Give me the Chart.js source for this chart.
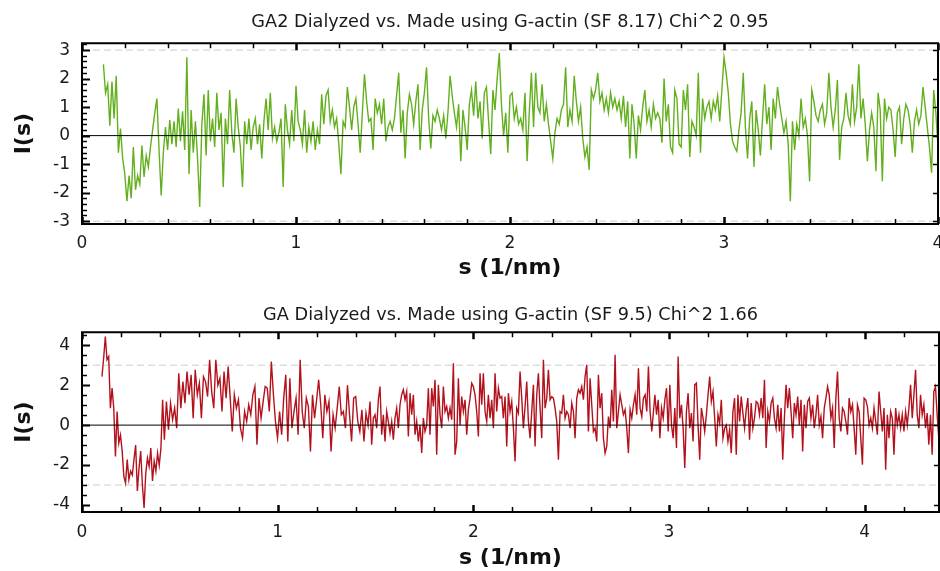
<!DOCTYPE html>
<html>
<head>
<meta charset="utf-8">
<title>GA residuals</title>
<script src="https://cdn.jsdelivr.net/npm/chart.js@4"></script>
<style>
    body { margin: 0; background: #fff; }
    .panel { position: absolute; left: 0; width: 940px; }
    #top { top: 0; height: 285px; }
    #bottom { top: 289px; height: 282px; }
</style>
</head>
<body>
<div class="panel" id="top"><canvas id="topChart"></canvas></div>
<div class="panel" id="bottom"><canvas id="bottomChart"></canvas></div>
<script>
const topTitle = 'GA2 Dialyzed vs. Made using G-actin (SF 8.17) Chi^2 0.95';
const bottomTitle = 'GA Dialyzed vs. Made using G-actin (SF 9.5) Chi^2 1.66';

const topXTicks = [0, 1, 2, 3, 4];
const topYTicks = [-3, -2, -1, 0, 1, 2, 3];
const bottomXTicks = [0, 1, 2, 3, 4];
const bottomYTicks = [-4, -2, 0, 2, 4];

// top panel, read every 0.01 from s = 0.10 to 4.00
const topStart = 0.10;
const topEnd = 4.00;
const topValues = [
    2.5, 1.5, 1.8, 0.35, 1.9, 0.6, 2.1, -0.6, 0.25, -0.8,
    -1.35, -2.3, -1.4, -2.2, -0.4, -1.9, -1.4, -1.7, -0.35, -1.45,
    -0.7, -1.1, -0.4, 0.2, 0.8, 1.3, -0.5, -2.1, -0.6, 0.3,
    -0.5, 0.55, -0.3, 0.5, -0.4, 0.95, -0.2, 0.85, -0.5, 2.75,
    -1.35, 0.9, -0.6, 0.5, -0.8, -2.5, 0.4, 1.45, -0.7, 1.6,
    -0.2, 0.6, -0.4, 1.5, 0.2, 0.8, -1.8, 0.6, -0.3, 1.6,
    0.1, -0.6, 1.3, 0.3, -0.4, -1.8, 0.5, -0.3, 0.6, -0.5,
    0.3, 0.6, -0.3, 0.4, -0.8, 0.5, 1.3, 0.2, 1.5, -0.1,
    0.3, -0.2, 0.1, 0.6, -1.8, 1.1, 0.2, -0.3, 0.9, -0.2,
    1.75, 0.5, 0.2, -0.3, 0.9, -0.6, 0.3, -0.2, 0.5, -0.5,
    0.2, -0.3, 1.45, 0.4, 1.4, 1.6, 0.5, 0.9, 0.3, 0.6,
    -0.3, -1.35, 0.5, 0.3, 1.7, 1.0, 0.2, 1.0, 1.3, 0.4,
    -0.6, 0.8, 2.15, 1.2, 0.5, 0.6, -0.5, 1.3, 0.8, 1.1,
    0.4, 1.3, -0.2, 0.3, 0.5, 0.2, 0.6, 1.4, 2.2, 0.1,
    0.9, -0.8, 0.8, 1.45, 1.1, 0.4, 1.2, 1.8, -0.5, 0.9,
    1.5, 2.4, 0.6, -0.45, 0.7, 0.5, 0.9, 0.6, 0.2, 0.7,
    -0.1, 0.8, 2.1, 1.4, 0.8, 0.3, 1.1, -0.9, 0.9, 0.3,
    -0.5, 1.1, 1.6, 0.7, 1.9, 0.6, 1.2, -0.1, 1.5, 1.7,
    0.5, -0.65, 1.6, 0.9, 2.0, 2.9, 1.1, 0.0, 0.8, -0.6,
    1.4, 1.5, 0.6, 1.0, 0.4, 0.6, 0.2, 1.5, -0.9, 0.8,
    2.2, 0.3, 2.2, 1.0, 0.8, 1.8, 0.5, 1.1, 0.4, -0.2,
    -0.8, 0.1, 0.6, 0.4, 0.9, 1.1, 2.4, 0.3, 0.9, 0.5,
    2.1, 1.2, 0.5, 1.0, -0.1, -0.75, -0.4, -1.2, 1.6, 1.3,
    1.6, 2.2, 1.2, 1.5, 0.9, 1.3, 0.8, 1.5, 1.0, 1.3,
    0.9, 1.2, 0.6, 1.4, 0.3, 1.2, -0.8, 1.1, 0.4, -0.8,
    0.7, 0.2, 1.0, 1.6, 0.5, 0.9, 0.3, 1.1, 0.6, 0.8,
    0.6, -0.25, 2.0, 0.5, 1.1, -0.4, -0.6, 1.6, 1.3, -0.3,
    -0.4, 1.6, 0.9, 1.8, -0.75, 0.5, 0.3, 0.0, 2.2, -0.6,
    1.3, 0.6, 1.0, 1.2, 0.6, 1.2, 0.9, 1.4, 0.5, 1.6,
    2.75, 2.2, 1.5, 0.4, -0.2, -0.4, -0.55, 0.2, 0.8, 2.2,
    0.3, -0.8, 0.6, 1.2, -1.1, 0.9, 0.2, -0.7, 0.6, 1.8,
    0.4, 1.0, -0.5, 1.3, 0.6, 1.7, 1.1, 0.6, 0.1, 0.5,
    -0.3, -2.3, 0.5, -0.5, 0.4, 0.0, 1.3, 0.3, 0.6, 0.0,
    -1.6, 1.6, 1.2, 0.7, 0.5, 0.9, 1.1, 0.4, 0.8, 2.2,
    1.0, 0.3, 0.9, 1.95, -0.85, 0.3, 0.6, 1.5, 0.7, 0.4,
    1.8, 0.5, 1.0, 2.5, 0.6, 1.3, 0.4, -0.9, 0.2, 0.8,
    0.3, -1.25, 1.5, 0.9, -1.6, 1.3, 0.6, 1.0, 0.9, 0.2,
    -0.75, 0.8, 1.0, -0.3, 0.6, 1.1, 0.9, 0.4, -0.6, 0.5,
    0.9, 0.4, 0.7, 1.7, 1.0, 0.3, -0.4, -1.3, 1.6, 0.8,
    -0.4
];

// bottom panel, read in four stretches (s from, s to)
const bottomRanges = [[0.102, 0.412], [0.421, 1.462], [1.472, 2.912], [2.928, 4.379]];
const bottomA = [
    2.43, 3.35, 4.43, 3.27, 3.43, 0.85, 1.85, 0.85, -1.57, 0.68,
    -0.9, -0.5, -1.3, -2.57, -2.9, -1.73, -2.73, -2.3, -2.5, -1.73,
    -1.0, -3.3, -2.15, -1.3, -3.0, -4.15, -2.4, -1.65, -2.07, -1.15,
    -2.8, -1.8, -2.3, -1.4, -2.0, -1.15, 1.27
];
const bottomB = [
    -0.73, 1.18, -0.23, 1.1, 0.27, 0.85, -0.15, 2.6, 0.85, 2.18,
    1.1, 2.68, 1.52, 2.52, 0.35, 2.77, 1.52, 2.1, 0.35, 2.43,
    2.18, 1.43, 3.27, 1.68, 0.85, 3.27, 2.0, 2.35, 0.68, 2.68,
    1.35, 2.93, 1.35, -0.32, 1.52, 0.85, 1.27, -0.15, -0.65, 0.68,
    0.18, 1.02, 0.52, 1.52, 1.93, -0.98, 1.35, 0.35, 1.18, 1.93,
    1.85, 0.68, 3.18, 1.52, 0.18, -0.65, 0.68, -0.48, 1.35, 2.52,
    -0.82, 2.35, -0.15, 0.68, 1.35, -0.48, 3.27, 0.68, -0.15, 1.35,
    0.93, -1.32, 1.52, 0.35, 1.27, 2.27, 1.02, -0.65, 1.52, 0.68,
    1.18, -1.32, 0.52, -0.15, 0.85, 1.93, 0.52, 0.68, -0.15, 2.0,
    0.52, -0.82, 1.35, 1.43, 0.18, -0.32, 0.77, -0.82, 0.6, 0
];
const bottomC = [
    1.18, -0.98, 0.35, 0.52, -0.15, 1.27, 1.93, -0.48, 0.52, -0.82,
    0.68, 0.18, -0.4, 0.18, -0.73, 0.35, 0.85, -0.15, 1.02, 1.52,
    1.77, 1.27, 1.68, -0.57, 1.6, 0.52, 1.52, -0.48, 0.18, -0.82,
    0, -1.4, 0.35, -0.32, 0, 1.85, -0.48, 1.85, 0.93, 2.27,
    -1.48, 2.02, 0.52, -0.15, 1.93, 0.68, 0.93, 0.35, 0.85, 0.27,
    3.1, -1.48, -0.82, 2.35, 0, 1.43, 0.68, 1.27, -0.48, 0.77,
    1.35, 2.1, 1.93, 1.52, 0.68, -0.57, 2.6, 1.02, 2.6, 0.68,
    0.18, 1.52, 0.35, 1.27, -0.15, 2.6, 0.68, 1.85, 1.35, 1.43,
    0.35, 1.43, -1.07, 1.6, 0.68, 1.18, -0.15, -1.82, 0.85, 0.6,
    2.68, 1.35, -0.15, 0.93, 2.18, 0.18, -0.65, 0.68, 2.02, -1.07,
    1.52, 2.6, 0.85, -0.65, 3.27, 0.85, 1.35, 2.77, 1.27, 1.43,
    1.35, 0.85, 0.18, -1.73, 0.68, 0.6, 1.52, 0.35, 0.68, 0.52,
    -0.15, 1.1, 0.68, -0.65, 1.35, 1.77, 1.6, 1.93, 1.27, 2.43,
    3.02, -0.32, 2.35, 1.02, -0.32, -0.15, -0.82, 2.52, 0.85, 1.6,
    -0.65, -1.4, -1.07, 0.43, -0.15, 1.77, 0.18, 3.52, -0.15, 0.68,
    1.52, 1.02, 0.52, 0.77, -0.15, -1.4, 0.77, 0.35, 1.02, 1.52,
    0.52, 2.85, 0.85, 0.43, 1.35, 1.52, 0.68, 2.93, 0.68, -0.32
];
const bottomD = [
    1.52, 0.52, 1.27, -0.65, 0.85, 0.35, 1.27, 1.85, -0.32, 2.02,
    0, -0.65, 0.85, -1.15, 3.43, 0.35, 1.02, -0.15,
    -2.15, 0.68, 1.6, -0.15, 0.6, -0.82, 2.02, 2.1, 0, -1.73,
    0.85, 0.35, -0.32, 0.52, 1.52, 2.43, 1.18, 1.68, 0.35, -1.07,
    0.52, 0.1, 1.27, -0.65, -0.15, 0, -0.82, -0.23, -1.4, 0.68,
    1.35, -1.48, 1.52, 0.18, 1.43, 0.6, -0.15, 0.77, 1.35, -0.73,
    1.1, -0.15, 0.35, 1.18, 1.1, 0.52, 1.35, 0.35, 2.27, -1.15,
    0.68, 0.18, 1.1, 1.35, 0.35, -0.15, 1.02, -0.32, 0.85, -1.73,
    0.35, 2.02, 0.85, 1.85, 0.68, -0.65, 1.1, 0.52, 1.43, 0,
    1.27, -1.32, 1.02, -0.15, 1.18, 1.35, 0.35, 1.02, -0.15, 0.52,
    1.52, 0, 0.43, -0.65, 0.85, 1.35, 1.93, 1.52, 0.35, 0.85,
    -1.15, 1.35, 2.68, 0.35, -0.32, 0.85, 0.68, 0.18, -0.48, 1.35,
    0.68, 1.02, -0.15, -1.48, 1.02, 0.68, -0.65, -1.98, 1.35, 1.27,
    0.93, 0, 0.35, -0.15, 0.85, 0.18, -0.48, 1.68, 0.68, -0.32,
    0.85,
    -2.23, 0.52, -0.65, 0.68, 0.35, -1.48, 0.85, 0, 0.52, -0.15,
    0.52, -0.32, 0.68, 0, 0.85, 2.02, 0.35, 1.52, 2.77, 0.52,
    -0.15, 1.52, 0.52, 1.02, -0.15, 0.6, -0.98, 0.52, -1.48, 1.68,
    1.93, 0.52, -0.65
];

const FONT = 'DejaVu Sans';

function toPoints(values, s0, s1) {
    const step = (s1 - s0) / (values.length - 1);
    return values.map((v, i) => ({ x: s0 + i * step, y: v }));
}

// frame round the plot area plus inward tick marks on all four sides
const frameTicks = {
    id: 'frameTicks',
    afterDatasetsDraw(chart, args, o) {
        const { ctx, chartArea: a, scales: { x, y } } = chart;
        ctx.save();
        ctx.strokeStyle = '#000';
        const line = (x1, y1, x2, y2, w) => {
            ctx.lineWidth = w;
            ctx.beginPath();
            ctx.moveTo(x1, y1);
            ctx.lineTo(x2, y2);
            ctx.stroke();
        };
        for (let i = 0; i * o.xMinor <= x.max + 1e-9; i++) {
            const v = i * o.xMinor;
            const px = Math.round(x.getPixelForValue(v)) + 0.5;
            const major = o.xMajor.some(m => Math.abs(m - v) < 1e-6);
            const len = major ? 7 : 5;
            line(px, a.bottom, px, a.bottom - len, major ? 2.5 : 1.5);
            line(px, a.top, px, a.top + len, major ? 2.5 : 1.5);
        }
        const i0 = Math.ceil(y.min / o.yMinor), i1 = Math.floor(y.max / o.yMinor);
        for (let i = i0; i <= i1; i++) {
            const v = i * o.yMinor;
            const py = Math.round(y.getPixelForValue(v)) + 0.5;
            const major = o.yMajor.some(m => Math.abs(m - v) < 1e-6);
            line(a.left, py, a.left + (major ? 8 : 5), py, major ? 2 : 1.5);
            if (major) line(a.right, py, a.right - 5, py, 1.5);
        }
        ctx.lineWidth = 2;
        ctx.strokeRect(a.left, a.top, a.width, a.height);
        ctx.restore();
    }
};

function makeChart(id, cfg) {
    const refLine = (v, color, dash, order) => ({
        data: [{ x: cfg.xMin, y: v }, { x: cfg.xMax, y: v }],
        borderColor: color, borderWidth: 1, borderDash: dash,
        pointRadius: 0, order: order
    });
    return new Chart(document.getElementById(id), {
        type: 'line',
        data: {
            datasets: [
                refLine(3, '#cccccc', [7, 4], 3),
                refLine(-3, '#cccccc', [7, 4], 3),
                {
                    data: cfg.points,
                    borderColor: cfg.color,
                    borderWidth: 1.4,
                    pointRadius: 0,
                    tension: 0,
                    order: 2
                },
                refLine(0, '#000', [], 1)
            ]
        },
        options: {
            responsive: true,
            maintainAspectRatio: false,
            animation: false,
            layout: { autoPadding: false, padding: { left: 0, right: cfg.padRight, top: 0, bottom: 0 } },
            plugins: {
                legend: { display: false },
                tooltip: { enabled: false },
                title: {
                    display: true,
                    text: cfg.title,
                    fullSize: false,
                    color: '#1a1a1a',
                    font: { family: FONT, size: 17.7, weight: 'normal' },
                    padding: cfg.titlePad
                },
                frameTicks: { xMinor: 0.2, xMajor: cfg.xTicks, yMinor: cfg.yMinor, yMajor: cfg.yTicks }
            },
            scales: {
                x: {
                    type: 'linear',
                    min: cfg.xMin,
                    max: cfg.xMax,
                    afterBuildTicks: s => { s.ticks = cfg.xTicks.map(v => ({ value: v })); },
                    afterFit: s => { s.height = cfg.xHeight; s.paddingLeft = 0; s.paddingRight = 0; },
                    grid: { display: false, drawTicks: false },
                    border: { display: false },
                    ticks: { color: '#1a1a1a', font: { family: FONT, size: 17 }, padding: cfg.xTickPad, maxRotation: 0 },
                    title: {
                        display: true,
                        text: 's (1/nm)',
                        color: '#111',
                        font: { family: FONT, size: 22, weight: 'bold' },
                        padding: { top: 0, bottom: cfg.xTitlePad }
                    }
                },
                y: {
                    min: cfg.yMin,
                    max: cfg.yMax,
                    afterBuildTicks: s => { s.ticks = cfg.yTicks.map(v => ({ value: v })); },
                    afterFit: s => { s.width = 82; s.paddingTop = 0; s.paddingBottom = 0; },
                    grid: { display: false, drawTicks: false },
                    border: { display: false },
                    ticks: { color: '#1a1a1a', font: { family: FONT, size: 17 }, padding: 12 },
                    title: {
                        display: true,
                        text: 'I(s)',
                        color: '#111',
                        font: { family: FONT, size: 22, weight: 'bold' },
                        padding: { top: 11, bottom: 0 }
                    }
                }
            }
        },
        plugins: [frameTicks]
    });
}

makeChart('topChart', {
    title: topTitle,
    points: toPoints(topValues, topStart, topEnd),
    color: '#63b01f',
    xMin: 0, xMax: 4, yMin: -3.1, yMax: 3.24,
    xTicks: topXTicks, yTicks: topYTicks, yMinor: 0.2,
    padRight: 2, titlePad: { top: 12, bottom: 10 },
    xHeight: 61, xTickPad: 9, xTitlePad: 4
});

const bottomPoints = [bottomA, bottomB, bottomC, bottomD]
    .flatMap((vals, k) => toPoints(vals, bottomRanges[k][0], bottomRanges[k][1]));

makeChart('bottomChart', {
    title: bottomTitle,
    points: bottomPoints,
    color: '#b3121d',
    xMin: 0, xMax: 4.38, yMin: -4.35, yMax: 4.65,
    xTicks: bottomXTicks, yTicks: bottomYTicks, yMinor: 0.5,
    padRight: 1, titlePad: { top: 16, bottom: 6 },
    xHeight: 59, xTickPad: 10, xTitlePad: 0
});
</script>
</body>
</html>
